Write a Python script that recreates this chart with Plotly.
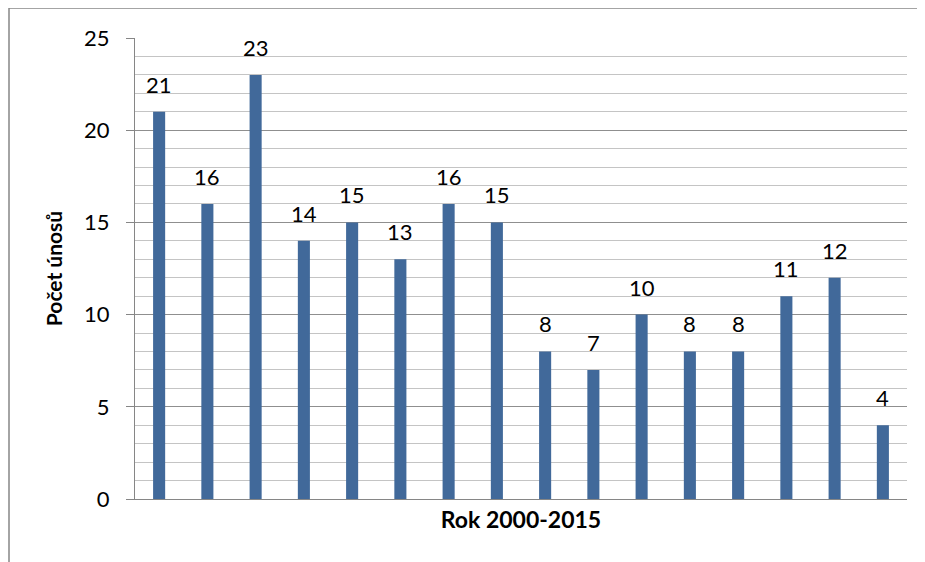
import plotly.graph_objects as go

years = [str(y) for y in range(2000, 2016)]
values = [21, 16, 23, 14, 15, 13, 16, 15, 8, 7, 10, 8, 8, 11, 12, 4]
y_ticks = [0, 5, 10, 15, 20, 25]

FONT = "Lato, Open Sans, sans-serif"

OFF = 8  # page body margin
L, R, T, B = 135 - OFF, 907 - OFF, 38 - OFF, 499 - OFF
W, H = 925, 562
pw, ph = R - L, B - T

def px(x):
    return (x - OFF - L) / pw

def py(y):
    return (B - (y - OFF)) / ph

fig = go.Figure()
fig.add_trace(go.Bar(
    x=years, y=values,
    marker=dict(color="#41699A", line=dict(width=0)),
    width=0.25,
    cliponaxis=False,
))

# data labels: category index positions on the category axis
for i, v in enumerate(values):
    fig.add_annotation(x=i, y=v, text=str(v), showarrow=False,
                       xref="x", yref="y",
                       yanchor="bottom", yshift=12,
                       font=dict(size=22, color="black", family=FONT))

fig.update_layout(
    width=W, height=H,
    margin=dict(l=L, r=W - R, t=T, b=H - B),
    plot_bgcolor="white", paper_bgcolor="white",
    showlegend=False,
    font=dict(family=FONT, color="black"),
    xaxis=dict(
        type="category",
        range=[-0.5, len(years) - 0.5],
        showticklabels=False, showgrid=False, ticks="",
        showline=True, linecolor="#868686", linewidth=1,
        title=dict(text="<b>Rok 2000-2015</b>", font=dict(size=23, family=FONT), standoff=12),
    ),
    yaxis=dict(
        range=[0, 25], tickvals=y_ticks, ticktext=[str(t) for t in y_ticks],
        tickfont=dict(size=22, family=FONT),
        showline=True, linecolor="#868686", linewidth=1,
        ticks="outside", ticklen=8, tickcolor="#868686",
        gridcolor="#8f8f8f", gridwidth=1,
        minor=dict(dtick=1, showgrid=True, gridcolor="#c4c4c4", gridwidth=1),
        zeroline=False,
        title=dict(text="<b>Počet únosů</b>", font=dict(size=21, family=FONT), standoff=15),
        ticklabelstandoff=12,
    ),
    bargap=0.75,
)

# outer chart frame
fig.add_shape(type="rect", xref="paper", yref="paper",
              x0=px(9), x1=px(945), y0=py(590), y1=py(8),
              line=dict(color="#868686", width=1.5), fillcolor="rgba(0,0,0,0)", layer="below")

fig.write_html("out.html")
